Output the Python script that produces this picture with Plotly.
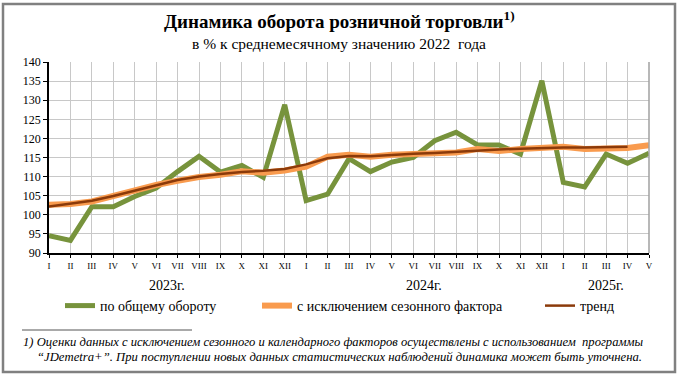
import plotly.graph_objects as go

months = ["I","II","III","IV","V","VI","VII","VIII","IX","X","XI","XII",
          "I","II","III","IV","V","VI","VII","VIII","IX","X","XI","XII",
          "I","II","III","IV","V"]
years = ["2023г.", "2024г.", "2025г."]
year_of_month = [0]*12 + [1]*12 + [2]*5

total = [94.5, 93.3, 102.1, 102.1, 104.8, 107.0, 111.3, 115.3, 111.2, 112.9, 109.8, 128.8,
         103.7, 105.4, 114.7, 111.3, 113.8, 115.0, 119.4, 121.6, 118.3, 118.3, 115.9, 135.1,
         108.5, 107.3, 115.9, 113.5, 116.1]
seasonal = [102.6, 102.8, 103.5, 105.0, 106.3, 107.8, 108.9, 109.9, 110.5, 111.4, 111.0, 111.6,
            112.6, 115.2, 115.7, 115.2, 115.7, 116.0, 116.3, 116.3, 117.2, 116.7, 117.2, 117.4,
            117.8, 117.2, 117.5, 117.5, 118.2]
trend = [102.2, 102.9, 103.7, 104.9, 106.3, 107.9, 109.1, 110.0, 110.7, 111.2, 111.5, 112.0,
         113.2, 114.8, 115.4, 115.3, 115.7, 116.0, 116.2, 116.5, 116.9, 117.1, 117.3, 117.5,
         117.6, 117.6, 117.7, 117.8]

names = ["по общему обороту", "с исключением сезонного фактора", "тренд"]
yticks = list(range(90, 141, 5))

SERIF = "Liberation Serif"
W, H = 680, 380
L, R, T, B = 49, 31, 62, 127
pw, ph = W - L - R, H - T - B

def px(x):
    return (x - L) / pw

def py(y):
    return (H - B - y) / ph

xs = list(range(len(months)))

fig = go.Figure()
fig.add_trace(go.Scatter(x=xs, y=total, mode="lines", name=names[0],
                         line=dict(color="#77933C", width=5), legend="legend"))
fig.add_trace(go.Scatter(x=xs, y=seasonal, mode="lines", name=names[1],
                         line=dict(color="#F99B4E", width=6), legend="legend2"))
fig.add_trace(go.Scatter(x=xs[:len(trend)], y=trend, mode="lines", name=names[2],
                         line=dict(color="#8B3A0A", width=2.5), legend="legend3"))

leg_common = dict(orientation="h", xanchor="left", yanchor="middle",
                  font=dict(family=SERIF, size=14, color="#000"),
                  bgcolor="rgba(0,0,0,0)", itemwidth=30)

def ann(x, y, text, size, xref="paper"):
    return dict(x=x, y=y, xref=xref, yref="paper", showarrow=False, text=text,
                xanchor="center", yanchor="middle",
                font=dict(family=SERIF, size=size, color="#000"))

annotations = []
for i, yr in enumerate(years):
    idx = [k for k, v in enumerate(year_of_month) if v == i]
    annotations.append(ann((idx[0] + idx[-1]) / 2, py(285), yr, 14, xref="x"))

annotations += [
    ann(px(339), py(20), "<b>Динамика оборота розничной торговли<sup>1)</sup></b>", 19),
    ann(px(339), py(43), "в % к среднемесячному значению 2022  года", 15.5),
    ann(px(333), py(342), "<i>1) Оценки данных с исключением сезонного и календарного факторов осуществлены с использованием  программы</i>", 12.6),
    ann(px(339), py(357), "<i>“JDemetra+”. При поступлении новых данных статистических наблюдений динамика может быть уточнена.</i>", 12.7),
]

shapes = [
    dict(type="rect", xref="paper", yref="paper", x0=px(3), x1=px(675), y0=py(4), y1=py(372),
         line=dict(color="#808080", width=2.5), layer="above"),
    dict(type="line", xref="paper", yref="paper", x0=px(22), x1=px(192), y0=py(330), y1=py(330),
         line=dict(color="#555", width=1)),
    dict(type="line", xref="paper", yref="paper", x0=1, x1=1, y0=0, y1=1,
         line=dict(color="#a0a0a0", width=1.5)),
]

fig.update_layout(
    width=W, height=H, margin=dict(l=L, r=R, t=T, b=B),
    paper_bgcolor="white", plot_bgcolor="white",
    font=dict(family=SERIF, color="#000"),
    showlegend=True,
    legend=dict(x=px(60), y=py(306), **leg_common),
    legend2=dict(x=px(257), y=py(306), **leg_common),
    legend3=dict(x=px(540), y=py(306), **leg_common),
    annotations=annotations, shapes=shapes,
    xaxis=dict(range=[0, len(months) - 1], tickmode="array", tickvals=xs, ticktext=months,
               showgrid=True, gridcolor="#c8c8c8", gridwidth=1.2,
               showline=True, linecolor="#000", linewidth=1.5,
               ticks="outside", ticklen=3, tickcolor="#000",
               tickfont=dict(family=SERIF, size=9), zeroline=False),
    yaxis=dict(range=[90, 140], tickmode="array", tickvals=yticks,
               showgrid=True, gridcolor="#c8c8c8", gridwidth=1.2,
               showline=True, linecolor="#000", linewidth=1.5,
               ticks="outside", ticklen=4, tickcolor="#000",
               tickfont=dict(family=SERIF, size=12), zeroline=False),
)

fig.write_html("out.html", config={"displayModeBar": False},
               post_script="document.body.style.margin='0';document.body.style.overflow='hidden';")
